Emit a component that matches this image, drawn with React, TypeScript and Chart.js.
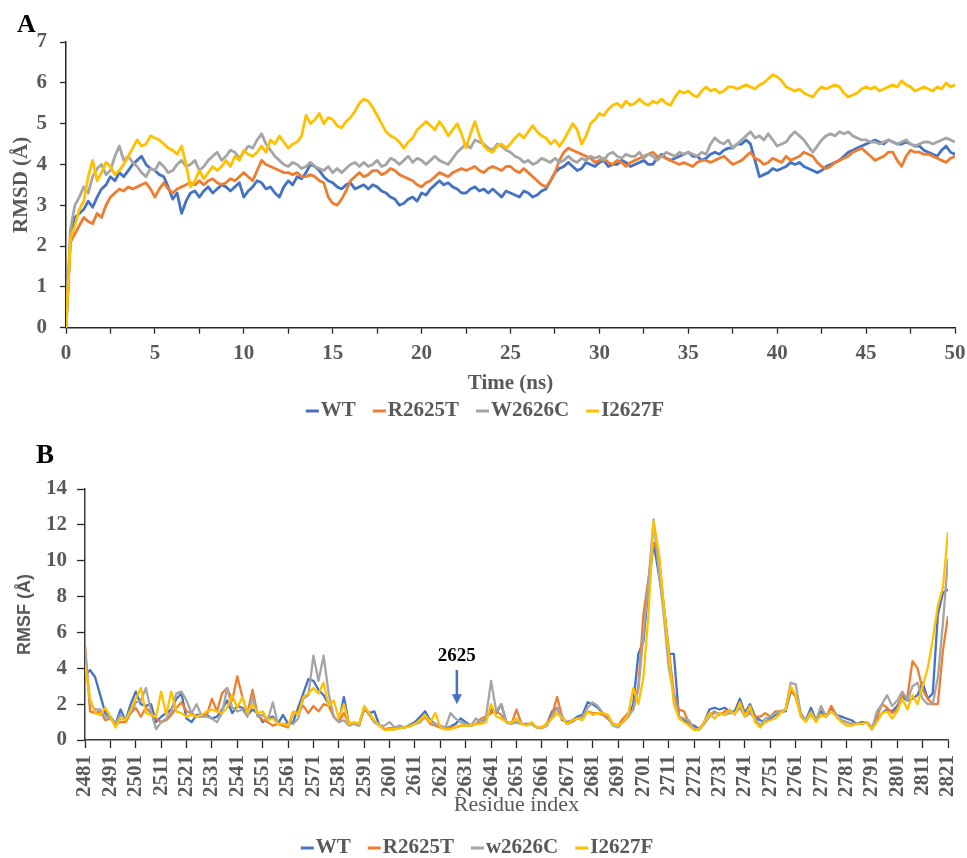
import React, { useEffect, useRef } from 'react';
import { Chart, registerables } from 'chart.js';

Chart.register(...registerables);

const SERIF = '"Liberation Serif", "Times New Roman", Times, serif';
const SANS = '"Liberation Sans", Arial, Helvetica, sans-serif';
const TEXT_GRAY = '#595959';
const AXIS_COLOR = '#262626';
const COLORS = ['#4472C4', '#ED7D31', '#A5A5A5', '#FFC000'];

// ---------- Panel A: RMSD vs time ----------
const RMSD_LABELS = ['WT', 'R2625T', 'W2626C', 'I2627F'];
const TIME_STEP = 0.25; // ns between samples, starting at 0 ns

const RMSD_WT = [
  0, 2.2, 2.7, 2.8, 2.9, 3.1, 2.95, 3.2, 3.4, 3.5, 3.7, 3.6, 3.8, 3.7, 3.85, 4.0, 4.1, 4.2, 4.0, 3.9,
  3.85, 3.75, 3.7, 3.45, 3.15, 3.3, 2.8, 3.1, 3.3, 3.35, 3.2, 3.35, 3.45, 3.3, 3.4, 3.5, 3.45, 3.35, 3.45, 3.55,
  3.2, 3.35, 3.45, 3.6, 3.55, 3.4, 3.45, 3.3, 3.2, 3.45, 3.6, 3.5, 3.7, 3.65, 3.8, 4.0, 3.95, 3.85, 3.7, 3.6,
  3.55, 3.45, 3.4, 3.5, 3.55, 3.4, 3.45, 3.5, 3.4, 3.5, 3.45, 3.35, 3.3, 3.2, 3.15, 3.0, 3.05, 3.15, 3.2, 3.1,
  3.3, 3.25, 3.4, 3.5, 3.6, 3.5, 3.55, 3.45, 3.4, 3.3, 3.3, 3.4, 3.45, 3.35, 3.4, 3.3, 3.4, 3.3, 3.2, 3.35,
  3.3, 3.25, 3.2, 3.35, 3.3, 3.2, 3.25, 3.35, 3.4, 3.6, 3.8, 3.9, 3.95, 4.05, 3.95, 3.85, 3.9, 4.05, 4.0, 3.95,
  4.05, 4.1, 3.95, 4.0, 4.0, 4.1, 4.05, 3.95, 4.0, 4.05, 4.1, 4.0, 4.0, 4.15, 4.25, 4.15, 4.1, 4.15, 4.2, 4.25,
  4.3, 4.2, 4.2, 4.1, 4.15, 4.25, 4.3, 4.25, 4.35, 4.4, 4.4, 4.5, 4.5, 4.6, 4.5, 4.1, 3.7, 3.75, 3.8, 3.9,
  3.85, 3.9, 3.95, 4.05, 4.0, 4.05, 3.95, 3.9, 3.85, 3.8, 3.85, 3.95, 4.0, 4.05, 4.1, 4.2, 4.3, 4.35, 4.4, 4.45,
  4.5, 4.55, 4.6, 4.55, 4.5, 4.6, 4.55, 4.5, 4.5, 4.55, 4.5, 4.45, 4.45, 4.35, 4.3, 4.25, 4.2, 4.35, 4.45, 4.3,
  4.25,
];
const RMSD_R2625T = [
  0, 2.1, 2.3, 2.5, 2.7, 2.6, 2.55, 2.8, 2.7, 3.0, 3.2, 3.3, 3.4, 3.35, 3.45, 3.4, 3.45, 3.5, 3.55, 3.4,
  3.2, 3.4, 3.55, 3.4, 3.3, 3.4, 3.45, 3.5, 3.55, 3.5, 3.6, 3.5, 3.6, 3.65, 3.55, 3.5, 3.55, 3.65, 3.6, 3.7,
  3.8, 3.7, 3.6, 3.85, 4.1, 4.0, 3.95, 3.9, 3.85, 3.8, 3.8, 3.75, 3.8, 3.7, 3.7, 3.75, 3.7, 3.6, 3.55, 3.2,
  3.05, 3.0, 3.15, 3.35, 3.6, 3.7, 3.8, 3.7, 3.75, 3.85, 3.85, 3.75, 3.8, 3.9, 3.85, 3.75, 3.7, 3.65, 3.6, 3.5,
  3.45, 3.55, 3.6, 3.7, 3.8, 3.75, 3.7, 3.8, 3.85, 3.9, 3.85, 3.9, 3.95, 3.85, 3.8, 3.9, 3.95, 3.9, 3.85, 3.95,
  3.95, 3.85, 3.8, 3.9, 3.8, 3.7, 3.6, 3.5, 3.45, 3.6, 3.8, 4.1, 4.3, 4.4, 4.35, 4.3, 4.25, 4.2, 4.15, 4.05,
  4.1, 4.15, 4.05, 4.0, 4.1, 4.05, 3.95, 4.05, 4.1, 4.15, 4.2, 4.25, 4.3, 4.2, 4.2, 4.15, 4.1, 4.05, 4.0, 4.05,
  4.0, 3.95, 4.05, 4.1, 4.1, 4.05, 4.1, 4.15, 4.2, 4.1, 4.0, 4.05, 4.1, 4.2, 4.3, 4.15, 4.1, 4.0, 4.05, 4.15,
  4.1, 4.05, 4.2, 4.1, 4.15, 4.2, 4.3, 4.25, 4.2, 4.05, 3.95, 3.9, 3.95, 4.05, 4.1, 4.15, 4.2, 4.3, 4.35, 4.4,
  4.3, 4.2, 4.1, 4.15, 4.2, 4.3, 4.3, 4.1, 3.95, 4.2, 4.35, 4.3, 4.3, 4.25, 4.25, 4.2, 4.15, 4.1, 4.05, 4.15,
  4.2,
];
const RMSD_W2626C = [
  0, 2.4, 3.0, 3.2, 3.45, 3.3, 3.7, 3.9, 4.0, 3.75, 3.85, 4.2, 4.45, 4.1, 4.2, 4.05, 3.95, 3.8, 3.7, 3.9,
  3.85, 4.05, 3.95, 3.8, 3.85, 4.0, 4.1, 3.95, 4.0, 4.1, 3.85, 3.95, 4.1, 4.2, 4.3, 4.1, 4.2, 4.35, 4.3, 4.15,
  4.3, 4.45, 4.4, 4.6, 4.75, 4.5, 4.35, 4.2, 4.1, 4.0, 3.95, 4.05, 4.0, 3.9, 3.95, 4.05, 3.95, 3.9, 3.85, 3.95,
  3.8, 3.9, 3.8, 3.9, 4.0, 4.05, 3.95, 4.05, 3.95, 4.0, 4.1, 3.95, 4.0, 4.15, 4.1, 4.0, 4.1, 4.2, 4.05, 4.15,
  4.1, 4.0, 4.1, 4.2, 4.1, 4.05, 4.0, 4.15, 4.3, 4.4, 4.5, 4.4, 4.6, 4.55, 4.5, 4.4, 4.35, 4.5, 4.45, 4.35,
  4.3, 4.2, 4.15, 4.05, 4.1, 4.0, 4.05, 4.15, 4.1, 4.05, 4.15, 4.05, 4.1, 4.2, 4.1, 4.05, 4.15, 4.1, 4.2, 4.15,
  4.2, 4.1, 4.25, 4.3, 4.2, 4.15, 4.25, 4.2, 4.2, 4.3, 4.15, 4.25, 4.2, 4.1, 4.2, 4.3, 4.25, 4.2, 4.3, 4.25,
  4.3, 4.25, 4.2, 4.3, 4.25, 4.5, 4.65, 4.55, 4.5, 4.6, 4.4, 4.5, 4.6, 4.7, 4.8, 4.65, 4.7, 4.6, 4.75, 4.6,
  4.45, 4.5, 4.55, 4.7, 4.8, 4.7, 4.6, 4.45, 4.3, 4.45, 4.6, 4.7, 4.75, 4.7, 4.8, 4.75, 4.8, 4.7, 4.65, 4.6,
  4.6, 4.55, 4.55, 4.5, 4.55, 4.6, 4.55, 4.5, 4.55, 4.6, 4.5, 4.45, 4.5, 4.55, 4.55, 4.5, 4.55, 4.6, 4.65, 4.6,
  4.55,
];
const RMSD_I2627F = [
  0, 2.2, 2.5, 2.9, 3.1, 3.7, 4.1, 3.6, 3.8, 4.05, 3.95, 3.75, 3.85, 4.0, 4.2, 4.4, 4.6, 4.45, 4.5, 4.7,
  4.65, 4.6, 4.5, 4.4, 4.35, 4.25, 4.45, 4.0, 3.45, 3.6, 3.85, 3.65, 3.8, 3.95, 3.85, 3.95, 4.1, 3.95, 4.2, 4.1,
  4.35, 4.25, 4.2, 4.3, 4.45, 4.3, 4.6, 4.5, 4.7, 4.55, 4.4, 4.5, 4.55, 4.7, 5.2, 5.0, 5.1, 5.25, 5.0, 5.15,
  5.1, 4.95, 4.9, 5.05, 5.15, 5.3, 5.5, 5.6, 5.55, 5.4, 5.2, 5.0, 4.8, 4.7, 4.65, 4.55, 4.4, 4.55, 4.65, 4.85,
  4.95, 5.05, 4.95, 4.85, 5.05, 4.9, 4.7, 4.85, 5.0, 4.75, 4.4, 4.75, 5.05, 4.7, 4.45, 4.35, 4.3, 4.45, 4.5, 4.4,
  4.5, 4.65, 4.75, 4.65, 4.8, 4.95, 4.8, 4.7, 4.65, 4.5, 4.6, 4.45, 4.6, 4.8, 5.0, 4.85, 4.5, 4.7, 5.0, 5.1,
  5.25, 5.2, 5.35, 5.45, 5.5, 5.4, 5.55, 5.45, 5.5, 5.6, 5.5, 5.45, 5.55, 5.5, 5.6, 5.5, 5.45, 5.65, 5.8, 5.75,
  5.8, 5.7, 5.65, 5.8, 5.9, 5.8, 5.85, 5.75, 5.8, 5.9, 5.9, 5.85, 5.9, 5.95, 5.9, 5.85, 5.95, 6.0, 6.1, 6.2,
  6.15, 6.05, 5.9, 5.85, 5.8, 5.85, 5.75, 5.7, 5.65, 5.8, 5.9, 5.85, 5.9, 5.95, 5.9, 5.75, 5.65, 5.7, 5.75, 5.85,
  5.9, 5.85, 5.9, 5.8, 5.85, 5.9, 5.95, 5.9, 6.05, 5.95, 5.9, 5.8, 5.85, 5.9, 5.85, 5.8, 5.9, 5.85, 6.0, 5.9,
  5.95,
];
const RMSD_SERIES = [RMSD_WT, RMSD_R2625T, RMSD_W2626C, RMSD_I2627F];

// ---------- Panel B: RMSF vs residue ----------
const RMSF_LABELS = ['WT', 'R2625T', 'w2626C', 'I2627F'];
const RES_START = 2481; // first residue
const RES_STEP = 2; // residues between samples
const RES_TICKS = [
  2481, 2491, 2501, 2511, 2521, 2531, 2541, 2551, 2561, 2571, 2581, 2591, 2601, 2611, 2621, 2631, 2641, 2651,
  2661, 2671, 2681, 2691, 2701, 2711, 2721, 2731, 2741, 2751, 2761, 2771, 2781, 2791, 2801, 2811, 2821,
];
const MARK_LABEL = '2625';
const MARK_RESIDUE = 2627.5;

const RMSF_WT = [
  3.6, 3.9, 3.5, 2.5, 1.5, 1.3, 0.9, 1.7, 1.1, 2.0,
  2.7, 2.0, 1.9, 2.0, 1.0, 1.3, 1.5, 1.7, 2.3, 2.6,
  1.2, 1.0, 1.4, 1.4, 1.4, 1.2, 1.3, 1.7, 2.2, 1.5,
  1.9, 1.8, 1.4, 1.7, 1.5, 1.0, 1.2, 1.3, 0.9, 1.4,
  0.9, 1.0, 1.8, 2.6, 3.4, 3.3, 2.8, 2.5, 2.0, 1.3,
  1.0, 2.4, 0.9, 0.9, 0.9, 1.7, 1.5, 1.6, 0.8, 0.6,
  0.65, 0.65, 0.7, 0.7, 0.85, 1.0, 1.3, 1.6, 1.1, 0.9,
  0.7, 0.65, 0.75, 0.9, 1.2, 1.0, 0.8, 0.9, 1.0, 1.2,
  1.7, 1.5, 2.0, 1.0, 0.95, 1.0, 0.9, 0.9, 0.9, 0.7,
  0.7, 0.9, 1.6, 1.8, 1.1, 1.0, 1.1, 1.3, 1.4, 2.1,
  2.0, 1.8, 1.5, 1.2, 0.9, 0.8, 1.0, 1.3, 2.0, 4.8,
  5.5, 8.5, 11.0, 9.3, 7.5, 4.8, 4.8, 1.3, 1.1, 0.9,
  0.8, 0.6, 1.0, 1.7, 1.8, 1.7, 1.8, 1.6, 1.6, 2.3,
  1.5, 2.0, 1.3, 1.1, 1.0, 1.2, 1.4, 1.6, 1.6, 2.7,
  2.5, 1.4, 1.1, 1.8, 1.1, 1.6, 1.3, 1.7, 1.4, 1.3,
  1.2, 1.1, 0.9, 1.0, 1.0, 0.7, 1.1, 1.5, 1.7, 1.6,
  1.9, 2.4, 2.2, 2.3, 2.5, 3.2, 2.3, 2.6, 7.0, 8.2,
  8.4,
];
const RMSF_R2625T = [
  5.3, 1.6, 1.5, 1.6, 1.1, 1.2, 0.9, 1.0, 1.0, 1.5,
  1.8, 1.3, 1.8, 1.5, 1.2, 1.0, 1.1, 1.4, 1.8, 2.1,
  1.6, 1.5, 1.3, 1.3, 1.4, 2.3, 1.6, 2.6, 2.9, 2.2,
  3.55, 2.4, 1.5, 2.8, 1.4, 1.1, 1.0, 0.8, 0.9, 0.8,
  0.7, 1.5, 1.6, 1.9, 1.5, 1.9, 1.6, 2.0, 1.9, 1.3,
  1.0, 1.5, 0.9, 0.9, 0.8, 1.8, 1.4, 1.0, 0.8, 0.6,
  0.6, 0.6, 0.7, 0.7, 0.8, 0.9, 1.0, 1.3, 0.9, 0.8,
  0.7, 0.6, 0.7, 0.7, 0.8, 0.8, 0.8, 0.9, 1.2, 1.3,
  1.5, 1.6, 1.4, 1.0, 0.9, 1.7, 0.9, 0.85, 0.9, 0.7,
  0.7, 0.9, 1.4, 2.4, 1.3, 0.9, 1.1, 1.2, 1.3, 1.6,
  1.5, 1.5, 1.4, 1.2, 0.9, 0.8, 1.2, 1.5, 1.7, 3.0,
  7.0, 9.0, 11.0, 10.5, 7.5, 5.0, 2.6, 1.7, 1.6, 0.9,
  0.6, 0.6, 1.0, 1.4, 1.6, 1.4, 1.6, 1.6, 1.5, 1.8,
  1.5, 1.6, 1.3, 1.3, 1.5, 1.3, 1.6, 1.6, 1.7, 2.8,
  2.4, 1.4, 1.1, 1.4, 1.1, 1.4, 1.3, 1.9, 1.4, 1.1,
  1.0, 0.9, 0.9, 0.9, 1.0, 0.6, 1.3, 2.0, 1.8, 1.5,
  1.7, 2.5, 2.4, 4.4, 4.0, 2.8, 2.3, 2.0, 2.0, 5.0,
  6.9,
];
const RMSF_W2626C = [
  5.0, 2.0, 1.7, 1.7, 1.3, 1.2, 0.9, 1.4, 1.2, 1.5,
  2.1, 2.2, 2.9, 1.6, 0.6, 1.0, 1.2, 1.6, 2.6, 2.7,
  2.2, 1.5, 2.0, 1.3, 1.3, 1.2, 1.0, 1.5, 2.9, 1.8,
  1.6, 1.7, 1.3, 2.4, 1.3, 1.4, 1.1, 2.1, 0.9, 0.9,
  0.9, 0.9, 1.2, 2.3, 2.5, 4.7, 3.3, 4.7, 2.6, 1.3,
  1.0, 1.1, 0.8, 0.9, 0.8, 1.8, 1.5, 1.0, 0.8, 0.8,
  1.0, 0.7, 0.8, 0.7, 0.8, 0.9, 1.0, 1.4, 1.0, 0.9,
  0.8, 0.7, 1.5, 1.2, 1.0, 0.9, 0.8, 1.2, 1.0, 1.3,
  3.3, 1.6, 2.0, 1.0, 0.9, 1.0, 0.9, 0.85, 0.9, 0.7,
  0.65, 0.8, 1.3, 1.8, 1.2, 0.9, 1.0, 1.2, 1.3, 1.8,
  2.1, 1.9, 1.5, 1.3, 0.8, 0.7, 1.0, 1.3, 1.7, 2.8,
  5.8, 8.8, 12.3, 9.5, 7.0, 4.0, 2.5, 1.3, 1.2, 1.1,
  0.6, 0.6, 0.9, 1.3, 1.5, 1.5, 1.4, 1.5, 1.5, 1.8,
  1.3, 1.5, 1.2, 0.8, 1.2, 1.3, 1.5, 1.6, 1.7, 3.2,
  3.1, 1.5, 1.1, 1.6, 1.1, 1.9, 1.3, 1.6, 1.4, 1.1,
  1.0, 0.9, 0.9, 0.9, 1.0, 0.6, 1.6, 2.0, 2.5, 1.9,
  2.2, 2.7, 2.2, 3.0, 3.2, 2.3, 2.0, 2.0, 3.5, 6.5,
  10.1,
];
const RMSF_I2627F = [
  4.2, 2.3, 1.5, 1.4, 1.8, 1.3, 0.7, 1.2, 1.1, 1.7,
  2.3, 2.9, 1.5, 1.4, 1.3, 2.7, 1.4, 2.7, 1.6, 1.5,
  1.3, 1.4, 1.3, 1.4, 1.6, 1.7, 1.6, 1.5, 1.8, 2.5,
  1.8, 2.4, 1.5, 2.0, 1.5, 1.6, 1.1, 1.2, 0.9, 0.9,
  0.8, 1.6, 1.4, 2.4, 2.6, 2.9, 2.6, 3.2, 1.9, 2.2,
  1.2, 2.0, 0.9, 1.0, 0.9, 1.9, 1.5, 1.1, 0.8, 0.55,
  0.6, 0.6, 0.65, 0.7, 0.75, 0.9, 1.1, 1.4, 1.0, 1.5,
  0.7, 0.6, 0.6, 0.7, 0.8, 0.8, 0.8, 0.9, 0.9, 1.0,
  2.0, 1.3, 1.2, 1.0, 0.95, 1.2, 0.9, 0.8, 1.0, 0.7,
  0.7, 0.9, 1.2, 1.5, 1.2, 0.9, 1.1, 1.2, 1.1, 1.6,
  1.4, 1.5, 1.5, 1.4, 0.9, 0.8, 1.0, 1.4, 2.9, 2.0,
  3.5, 7.0, 12.2, 10.5, 7.5, 4.7, 2.0, 1.2, 1.0, 0.8,
  0.55, 0.6, 1.0, 1.5, 1.2, 1.5, 1.4, 1.7, 1.4, 2.1,
  1.3, 1.9, 1.0, 0.7, 1.0, 1.1, 1.2, 1.5, 1.7, 3.0,
  2.5, 1.3, 1.0, 1.5, 1.0, 1.4, 1.3, 1.6, 1.3, 1.0,
  0.8, 0.8, 0.9, 0.9, 1.0, 0.6, 1.0, 1.5, 1.6, 1.2,
  1.6, 2.3, 1.7, 2.5, 2.0, 3.0, 4.0, 5.6, 7.5, 8.5,
  11.6,
];
const RMSF_SERIES = [RMSF_WT, RMSF_R2625T, RMSF_W2626C, RMSF_I2627F];

// ---------- helpers ----------
const toXY = (arr: number[], start: number, step: number) => arr.map((y, i) => ({ x: start + i * step, y }));

const panelLabel = (text: string, x: number, y: number, size: number) => ({
  id: 'panelLabel' + text,
  afterDraw(chart: any) {
    const ctx = chart.ctx;
    ctx.save();
    ctx.font = `bold ${size}px ${SERIF}`;
    ctx.fillStyle = '#000';
    ctx.textAlign = 'left';
    ctx.textBaseline = 'alphabetic';
    ctx.fillText(text, x, y);
    ctx.restore();
  },
});

const lineLegend = (cx: number, cy: number, size: number) => ({
  id: 'lineLegend',
  afterDraw(chart: any) {
    const ctx = chart.ctx;
    ctx.save();
    ctx.font = `bold ${size}px ${SERIF}`;
    const lineW = 13;
    const gap = 2;
    const itemGap = 17;
    const items = chart.data.datasets.map((ds: any) => ({
      label: ds.label,
      color: ds.borderColor,
      w: ctx.measureText(ds.label).width,
    }));
    const total =
      items.reduce((s: number, it: any) => s + lineW + gap + it.w, 0) + itemGap * (items.length - 1);
    let x = cx - total / 2;
    for (const it of items) {
      ctx.strokeStyle = it.color;
      ctx.lineWidth = 3;
      ctx.beginPath();
      ctx.moveTo(x, cy);
      ctx.lineTo(x + lineW, cy);
      ctx.stroke();
      ctx.fillStyle = TEXT_GRAY;
      ctx.textAlign = 'left';
      ctx.textBaseline = 'middle';
      ctx.fillText(it.label, x + lineW + gap, cy);
      x += lineW + gap + it.w + itemGap;
    }
    ctx.restore();
  },
});

const markerPlugin = {
  id: 'residueMarker',
  afterDatasetsDraw(chart: any) {
    const { ctx, scales } = chart;
    const x = scales.x.getPixelForValue(MARK_RESIDUE);
    const yText = scales.y.getPixelForValue(4.7);
    const yTop = scales.y.getPixelForValue(3.9);
    const yTip = scales.y.getPixelForValue(2.0);
    ctx.save();
    ctx.font = `bold 19px ${SERIF}`;
    ctx.fillStyle = '#000';
    ctx.textAlign = 'center';
    ctx.textBaseline = 'middle';
    ctx.fillText(MARK_LABEL, x, yText);
    ctx.strokeStyle = '#4472C4';
    ctx.fillStyle = '#4472C4';
    ctx.lineWidth = 2.5;
    ctx.beginPath();
    ctx.moveTo(x, yTop);
    ctx.lineTo(x, yTip - 8);
    ctx.stroke();
    ctx.beginPath();
    ctx.moveTo(x - 5, yTip - 10);
    ctx.lineTo(x + 5, yTip - 10);
    ctx.lineTo(x, yTip);
    ctx.closePath();
    ctx.fill();
    ctx.restore();
  },
};

const tickFont = { family: SERIF, size: 21, weight: 'bold' as const };
const gridOpts = (len: number) => ({
  display: true,
  drawOnChartArea: false,
  drawTicks: true,
  tickLength: len,
  tickColor: AXIS_COLOR,
  tickWidth: 1.3,
});
const borderOpts = { display: true, color: AXIS_COLOR, width: 1.5 };

// fix an axis' thickness and stop its labels from shrinking the plot area
const fixX = (h: number) => (s: any) => {
  s.height = h;
  s.paddingLeft = 0;
  s.paddingRight = 0;
};
const fixY = (w: number) => (s: any) => {
  s.width = w;
  s.paddingTop = 0;
  s.paddingBottom = 0;
};

const makeDatasets = (series: number[][], labels: string[], start: number, step: number, width: number) =>
  series.map((d, i) => ({
    label: labels[i],
    data: toXY(d, start, step),
    borderColor: COLORS[i],
    backgroundColor: COLORS[i],
    borderWidth: width,
    pointRadius: 0,
    pointHoverRadius: 0,
    tension: 0,
    fill: false,
    borderJoinStyle: 'round' as const,
    order: series.length - 1 - i,
  }));

const rmsdConfig = (): any => ({
  type: 'line',
  data: { datasets: makeDatasets(RMSD_SERIES, RMSD_LABELS, 0, TIME_STEP, 2.8) },
  options: {
    responsive: false,
    animation: false,
    layout: { padding: { left: 0, top: 42, right: 12, bottom: 44.3 } },
    plugins: { legend: { display: false }, tooltip: { enabled: false } },
    scales: {
      x: {
        type: 'linear',
        min: 0,
        max: 50,
        afterFit: fixX(68),
        ticks: {
          stepSize: 2.5,
          autoSkip: false,
          maxRotation: 0,
          minRotation: 0,
          padding: 7,
          color: TEXT_GRAY,
          font: tickFont,
          callback: (v: number) => (v % 5 === 0 ? String(v) : ''),
        },
        grid: gridOpts(6),
        border: borderOpts,
        title: {
          display: true,
          text: 'Time (ns)',
          color: TEXT_GRAY,
          font: { family: SERIF, size: 21, weight: 'bold' },
          padding: 0,
        },
      },
      y: {
        type: 'linear',
        min: 0,
        max: 7,
        afterFit: fixY(66),
        ticks: { stepSize: 1, padding: 13, color: TEXT_GRAY, font: tickFont },
        grid: gridOpts(6),
        border: borderOpts,
        title: {
          display: true,
          text: 'RMSD (Å)',
          color: TEXT_GRAY,
          font: { family: SERIF, size: 21, weight: 'bold' },
          padding: { top: 9, bottom: 0 },
        },
      },
    },
  },
  plugins: [panelLabel('A', 17, 32, 26), lineLegend(485, 411, 21)],
});

const rmsfConfig = (): any => ({
  type: 'line',
  data: { datasets: makeDatasets(RMSF_SERIES, RMSF_LABELS, RES_START, RES_STEP, 2.3) },
  options: {
    responsive: false,
    animation: false,
    layout: { padding: { left: 0, top: 49, right: 19, bottom: 40 } },
    plugins: { legend: { display: false }, tooltip: { enabled: false } },
    scales: {
      x: {
        type: 'linear',
        min: RES_TICKS[0],
        max: RES_TICKS[RES_TICKS.length - 1],
        afterBuildTicks: (s: any) => {
          s.ticks = RES_TICKS.map((v) => ({ value: v }));
        },
        afterFit: fixX(78),
        ticks: {
          autoSkip: false,
          maxRotation: 90,
          minRotation: 90,
          padding: 7,
          color: TEXT_GRAY,
          font: tickFont,
          callback: (v: number) => String(v),
        },
        grid: gridOpts(8),
        border: { display: true, color: '#3a3a3a', width: 1.5 },
        title: {
          display: true,
          text: 'Residue index',
          color: TEXT_GRAY,
          font: { family: SERIF, size: 22, weight: 'normal' },
          padding: 0,
        },
      },
      y: {
        type: 'linear',
        min: 0,
        max: 14,
        afterFit: fixY(85),
        ticks: { stepSize: 2, padding: 10, color: TEXT_GRAY, font: tickFont },
        grid: gridOpts(8),
        border: { display: true, color: '#3a3a3a', width: 1.5 },
        title: {
          display: true,
          text: 'RMSF (Å)',
          color: TEXT_GRAY,
          font: { family: SANS, size: 18, weight: 'bold' },
          padding: { top: 14, bottom: 0 },
        },
      },
    },
  },
  plugins: [panelLabel('B', 36, 23, 27), markerPlugin, lineLegend(477, 408, 21)],
});

function ChartCanvas({ makeConfig, top, height }: { makeConfig: () => any; top: number; height: number }) {
  const ref = useRef<HTMLCanvasElement | null>(null);
  useEffect(() => {
    if (!ref.current) return;
    const chart = new Chart(ref.current, makeConfig());
    return () => chart.destroy();
  }, [makeConfig]);
  return (
    <canvas
      ref={ref}
      width={967}
      height={height}
      style={{ position: 'absolute', left: 0, top, width: 967, height, display: 'block' }}
    />
  );
}

export default function App() {
  return (
    <div style={{ position: 'absolute', left: 0, top: 0, width: 967, height: 858, background: '#fff' }}>
      <ChartCanvas makeConfig={rmsdConfig} top={0} height={440} />
      <ChartCanvas makeConfig={rmsfConfig} top={440} height={418} />
    </div>
  );
}
